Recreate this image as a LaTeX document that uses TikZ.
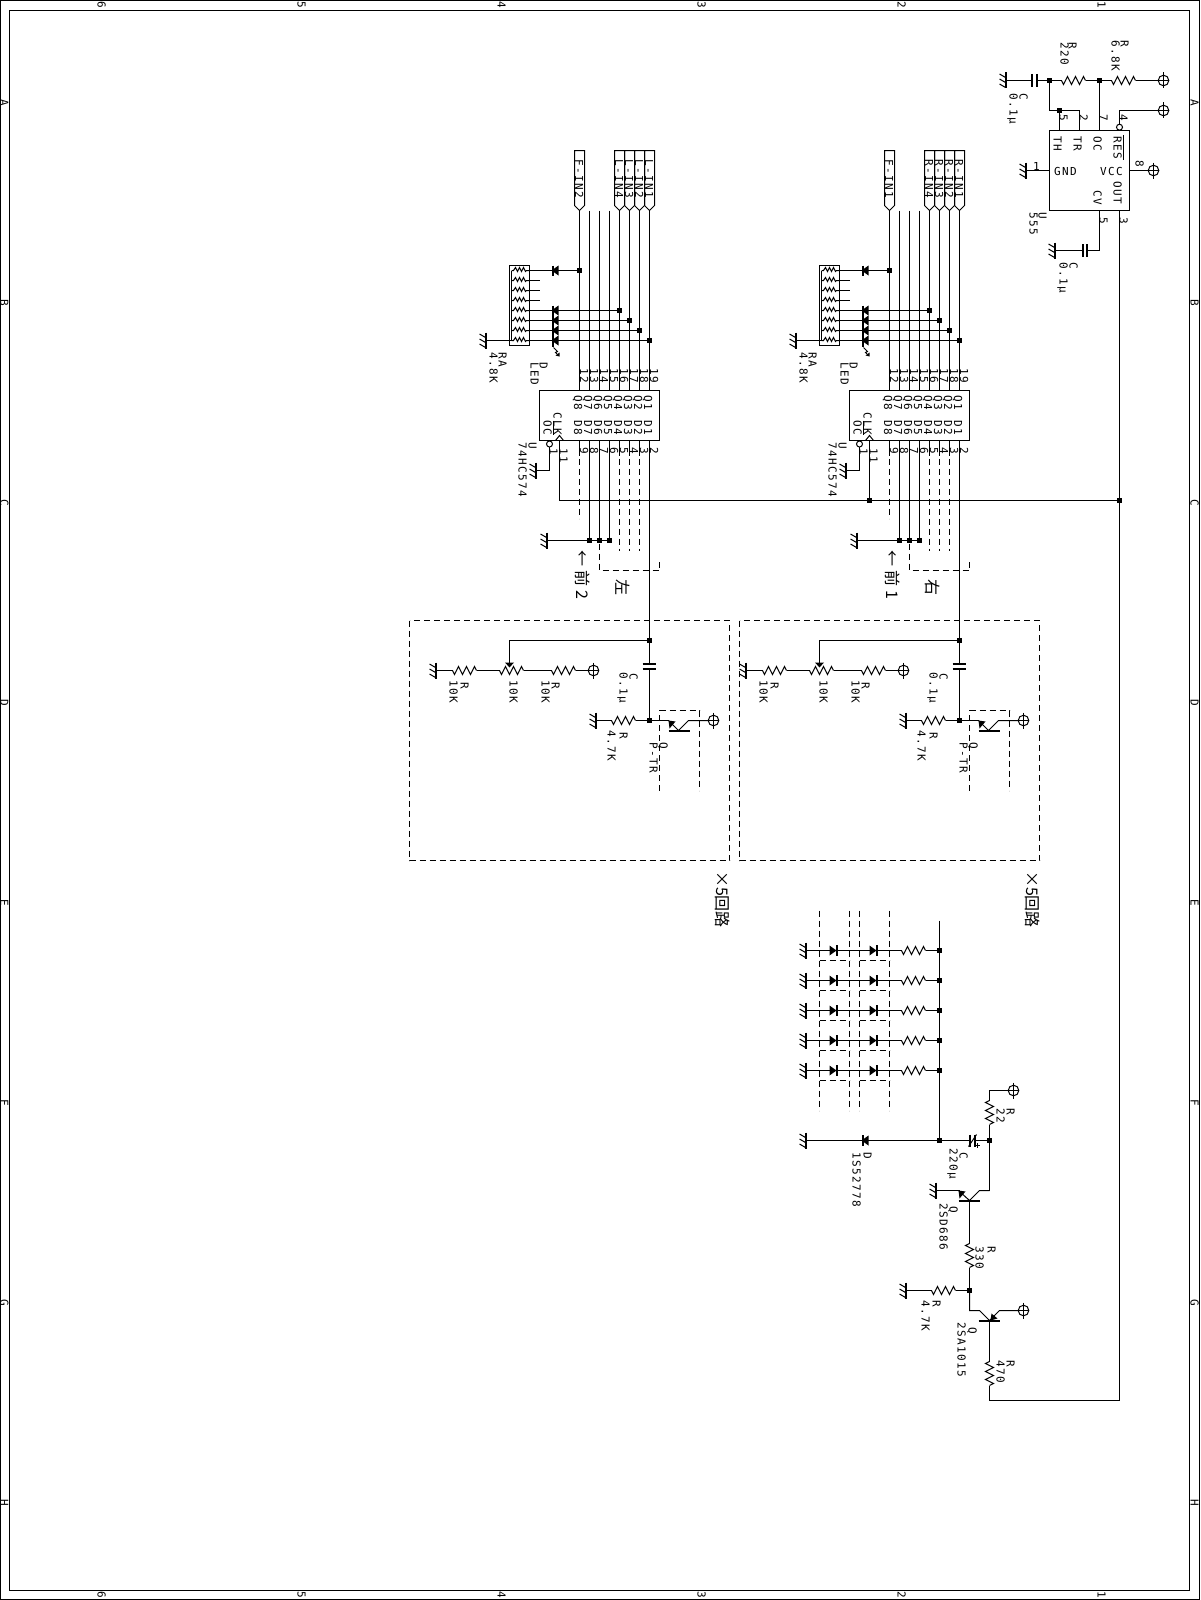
\documentclass[tikz,border=0pt]{standalone}
\usepackage{fontspec}
\newfontfamily\lf[LetterSpace=13]{DejaVu Sans Mono}
\newfontfamily\cjk{Noto Sans CJK JP}
\newcount\lbc
\tikzset{
  lab/.style={rotate=-90,anchor=west,inner sep=0pt,outer sep=0pt,font=\lf\fontsize{11}{11}\selectfont,text height=8pt,text depth=0pt},
  upr/.style={anchor=center,inner sep=0pt,font=\lf\fontsize{11}{11}\selectfont},
  big/.style={rotate=-90,anchor=west,inner sep=0pt,font=\cjk\fontsize{16}{16}\selectfont,text height=12pt,text depth=2pt},
  dsh/.style={dash pattern=on 6pt off 4pt},
  hvy/.style={line width=2pt}
}
\newcommand\lb[3]{\global\advance\lbc by 1 \node[lab] (t\the\lbc) at (#1,#2) {#3};}
\newcommand\lbu[3]{\global\advance\lbc by 1 \node[upr] (t\the\lbc) at (#1,#2) {#3};}
\newcommand\lbb[3]{\global\advance\lbc by 1 \node[big] (t\the\lbc) at (#1,#2) {#3};}
\newcommand\junc[2]{\fill (#1-2.5,#2-2.5) rectangle ++(5,5);}
\newcommand\gnd[2]{\begin{scope}[shift={(#1,#2)}]
  \draw[hvy] (0,-8) -- (0,8);
  \foreach \t in {-3,2,7} {\draw (0,\t) -- (-6,\t-3.5);}
\end{scope}}
\newcommand\pwr[2]{\begin{scope}[shift={(#1,#2)}]
  \draw (0,0) circle[radius=5.3pt];
  \draw (0,-8) -- (0,8);
  \draw (-5,0) -- (5.5,0);
\end{scope}}
\newcommand\resh[2]{\draw[shift={(#1,#2)}] (0,0) -- (2,4) -- (6,-4) -- (10,4) -- (14,-4) -- (18,4) -- (22,-4) -- (24,0);}
\newcommand\resv[2]{\draw[shift={(#1,#2)}] (0,0) -- (-4,2) -- (4,6) -- (-4,10) -- (4,14) -- (-4,18) -- (4,22) -- (0,24);}
\newcommand\caph[3]{\draw[hvy] (#1,#3-6.5) -- (#1,#3+6.5); \draw[hvy] (#2,#3-6.5) -- (#2,#3+6.5);}
\newcommand\dior[2]{\fill (#1,#2) -- (#1-7,#2-5) -- (#1-7,#2+5) -- cycle; \draw[hvy] (#1,#2-5.5) -- (#1,#2+5.5);}
\newcommand\diol[2]{\fill (#1,#2) -- (#1+7,#2-5) -- (#1+7,#2+5) -- cycle;}
\newcommand\flag[2]{\draw (#1-5,150) -- (#1+5,150) -- (#1+5,205) -- (#1,210) -- (#1-5,205) -- cycle; \lb{#1-0.5}{159}{#2}}
\newcommand\latch[8]{\begin{scope}[shift={(#1,0)}]
  \flag{890}{#2} \flag{930}{#3} \flag{940}{#4} \flag{950}{#5} \flag{960}{#6}
  \foreach \x in {890,900,...,960} {\draw (\x,210) -- (\x,390);}
  \junc{890}{270} \junc{930}{310} \junc{940}{320} \junc{950}{330} \junc{960}{340}
  \draw (820,265) rectangle (840,345);
  \draw (822,270) -- (822,340);
  \foreach \y in {270,280,...,340} {
    \draw (822,\y) -- (824,\y) -- (826,\y-3) -- (828,\y+1) -- (830,\y-3) -- (832,\y+1) -- (834,\y-3) -- (836,\y+1) -- (837,\y) -- (840,\y);
  }
  \foreach \y in {280,290,300} {\draw (840,\y) -- (850,\y);}
  \gnd{796}{340}
  \draw (796,340) -- (822,340);
  \draw (840,270) -- (890,270);
  \draw (840,310) -- (930,310);
  \draw (840,320) -- (940,320);
  \draw (840,330) -- (950,330);
  \draw (840,340) -- (960,340);
  \draw[hvy] (863,265) -- (863,275);
  \diol{862}{270}
  \draw[hvy] (863,305) -- (863,346);
  \foreach \y in {310,320,330,340} {\diol{862}{\y}}
  \draw (864,347) -- (868,351) -- (866,352) -- (869,355);
  \fill (870,356) -- (866,355) -- (870,352) -- cycle;
  \lb{813}{352}{RA}
  \lb{804}{352}{4.8K}
  \lb{854}{362}{D}
  \lb{845}{362}{LED}
  \draw (850,390) rectangle (970,440);
  \foreach \x/\t/\q/\b in {890/12/8/9,900/13/7/8,910/14/6/7,920/15/5/6,930/16/4/5,940/17/3/4,950/18/2/3,960/19/1/2} {
    \lb{\x+4.5}{368}{\t}
    \lb{\x-1.5}{395}{Q\q}
    \lb{\x-1.5}{420}{D\q}
    \lb{\x+4.5}{447}{\b}
  }
  \lb{868}{412}{CLK}
  \lb{858}{420}{OC}
  \draw (864,420) -- (864,434);
  \draw (866,440) -- (870,435) -- (874,440);
  \draw (860,443.5) circle[radius=3pt];
  \draw (860,446.5) -- (860,470) -- (846,470);
  \gnd{846}{470}
  \lb{864}{448}{1}
  \lb{874}{448}{11}
  \lb{843}{442}{U}
  \lb{833}{442}{74HC574}
  \draw (870,440) -- (870,500);
  \draw (890,440) -- (890,455);
  \draw[dsh] (890,458) -- (890,518);
  \foreach \x in {930,940,950} {\draw (\x,440) -- (\x,455); \draw[dsh] (\x,458) -- (\x,550);}
  \foreach \x in {900,910,920} {\draw (\x,440) -- (\x,540); \junc{\x}{540}}
  \draw (857,540) -- (920,540);
  \gnd{857}{540}
  \draw[dsh] (910,543) -- (910,570) -- (970,570) -- (970,560);
  \lbb{892}{549}{←\hspace{5pt}前\hspace{3pt}#7}
  \lbb{932}{578}{#8}
  \draw (960,440) -- (960,663);
  \draw (960,668) -- (960,720);
  \junc{960}{640} \junc{960}{720}
  \draw[hvy] (953,663) -- (966.5,663);
  \draw[hvy] (953,668) -- (966.5,668);
  \draw (960,640) -- (820,640) -- (820,663);
  \fill (820,667) -- (815.5,662) -- (824.5,662) -- cycle;
  \gnd{746}{670}
  \draw (746,670) -- (763,670); \resh{763}{670}
  \draw (787,670) -- (810,670); \resh{810}{670}
  \draw (834,670) -- (862,670); \resh{862}{670}
  \draw (886,670) -- (899,670);
  \pwr{904}{670}
  \lb{775}{682}{R}
  \lb{764}{680}{10K}
  \lb{824}{680}{10K}
  \lb{866}{682}{R}
  \lb{856}{680}{10K}
  \lb{944}{673}{C}
  \lb{934}{672}{0.1µ}
  \gnd{906}{720}
  \draw (906,720) -- (922,720); \resh{922}{720}
  \draw (946,720) -- (979,720);
  \fill (979,720) -- (986,721) -- (980,728) -- cycle;
  \draw (979,720) -- (989,730) -- (999,720) -- (1019,720);
  \draw[hvy] (979,730.5) -- (1000,730.5);
  \pwr{1024}{720}
  \draw[dsh] (970,790) -- (970,710) -- (1010,710) -- (1010,790);
  \lb{934}{732}{R}
  \lb{922}{730}{4.7K}
  \lb{974}{742}{Q}
  \lb{964}{742}{P-TR}
  \lbb{1032}{870}{×5回路}
\end{scope}}
\begin{document}
\begin{tikzpicture}[x=1pt,y=-1pt,line width=1pt]
\useasboundingbox (0,0) rectangle (1200,1600);
\fill[white] (0,0) rectangle (1200,1600);
\draw (0.5,0.5) rectangle (1199.5,1599.5);
\begin{scope}[shift={(-0.5,0.5)}]
\draw (10,10) rectangle (1190,1590);
\foreach \x/\n in {102/6,302/5,502/4,702/3,902/2,1102/1} {
  \lb{\x}{1}{\n}
  \lb{\x}{1591}{\n}
}
\foreach \y/\n in {103/A,303/B,503/C,703/D,903/E,1103/F,1303/G,1503/H} {
  \lb{5}{\y-4}{\n}
  \lb{1195}{\y-4}{\n}
}
\draw (1050,130) rectangle (1130,210);
\gnd{1006}{80}
\draw (1006,80) -- (1032,80);
\caph{1032}{1037}{80}
\draw (1037,80) -- (1062,80); \resh{1062}{80}
\draw (1086,80) -- (1112,80); \resh{1112}{80}
\draw (1136,80) -- (1159,80);
\pwr{1164}{80}
\junc{1050}{80} \junc{1100}{80}
\draw (1100,80) -- (1100,130);
\draw (1050,80) -- (1050,110) -- (1080,110) -- (1080,130);
\junc{1060}{110}
\draw (1060,110) -- (1060,130);
\draw (1120,123.5) -- (1120,110) -- (1159,110);
\draw (1120,126.7) circle[radius=3pt];
\pwr{1164}{110}
\gnd{1026}{170}
\draw (1026,170) -- (1050,170);
\draw (1130,170) -- (1149,170);
\pwr{1154}{170}
\draw (1100,210) -- (1100,250) -- (1087,250);
\caph{1083}{1087}{250}
\draw (1083,250) -- (1055,250);
\gnd{1055}{250}
\lb{1064}{114}{5}
\lb{1084}{114}{2}
\lb{1104}{114}{7}
\lb{1124}{114}{4}
\lb{1058}{136}{TH}
\lb{1078}{136}{TR}
\lb{1098}{136}{OC}
\lb{1118}{136}{RES}
\draw (1124,135) -- (1124,159);
\lbu{1066}{171}{GND}
\lbu{1112}{171}{VCC}
\lbu{1037}{166}{1}
\lb{1140}{160}{8}
\lb{1118}{181}{OUT}
\lb{1098}{190}{CV}
\lb{1104}{217}{5}
\lb{1124}{217}{3}
\lb{1043}{212}{U}
\lb{1034}{212}{555}
\lb{1073}{42}{R}
\lb{1065}{42}{220}
\lb{1125}{40}{R}
\lb{1116}{40}{6.8K}
\lb{1024}{93}{C}
\lb{1014}{93}{0.1µ}
\lb{1074}{262}{C}
\lb{1064}{262}{0.1µ}
\draw (1120,210) -- (1120,1400) -- (990,1400);
\draw (560,500) -- (1120,500);
\junc{1120}{500}
\junc{870}{500}
\latch{0}{F-IN1}{R-IN4}{R-IN3}{R-IN2}{R-IN1}{1}{右}
\latch{-310}{F-IN2}{L-IN4}{L-IN3}{L-IN2}{L-IN1}{2}{左}
\draw[dsh] (740,620) rectangle (1040,860);
\draw[dsh] (410,620) rectangle (730,860);
\foreach \x in {820,850,860,890} {\draw[dsh] (\x,910) -- (\x,1110);}
\draw (940,920) -- (940,1140);
\foreach \y in {950,980,1010,1040,1070} {
  \gnd{806}{\y}
  \draw (806,\y) -- (902,\y);
  \dior{837}{\y}
  \dior{877}{\y}
  \resh{902}{\y}
  \draw (926,\y) -- (940,\y);
  \junc{940}{\y}
  \draw[dsh] (820,\y+10) -- (850,\y+10);
  \draw[dsh] (860,\y+10) -- (890,\y+10);
}
\gnd{806}{1140}
\draw (806,1140) -- (970,1140);
\draw[hvy] (863,1134.5) -- (863,1145.5);
\diol{862}{1140}
\junc{940}{1140}
\draw[hvy] (970,1134) -- (970,1146);
\draw[hvy] (975,1134) -- (975,1146);
\draw (969,1146) -- (977,1134);
\draw (975,1145) -- (980,1145) (977.5,1142.5) -- (977.5,1147.5);
\draw (975,1140) -- (990,1140);
\junc{990}{1140}
\lb{868}{1152}{D}
\lb{857}{1152}{1S52778}
\lb{964}{1152}{C}
\lb{954}{1148}{220µ}
\draw (990,1190) -- (990,1124);
\resv{990}{1100}
\draw (990,1100) -- (990,1090) -- (1009,1090);
\pwr{1014}{1090}
\lb{1011}{1108}{R}
\lb{1001}{1108}{22}
\gnd{936}{1190}
\draw (936,1190) -- (960,1190);
\fill (959,1190) -- (966,1191) -- (960,1198) -- cycle;
\draw (959,1190) -- (970,1200) -- (980,1190) -- (990,1190);
\draw[hvy] (959,1200.5) -- (980,1200.5);
\lb{954}{1206}{Q}
\lb{944}{1203}{2SD686}
\draw (970,1200) -- (970,1243);
\resv{970}{1243}
\draw (970,1267) -- (970,1290);
\junc{970}{1290}
\lb{992}{1246}{R}
\lb{980}{1246}{330}
\gnd{906}{1290}
\draw (906,1290) -- (932,1290);
\resh{932}{1290}
\draw (956,1290) -- (970,1290);
\lb{937}{1300}{R}
\lb{926}{1300}{4.7K}
\draw (970,1290) -- (970,1310) -- (980,1310) -- (990,1320) -- (1000,1310) -- (1019,1310);
\draw[hvy] (979,1320.5) -- (1000,1320.5);
\fill (991,1320) -- (998,1318) -- (992,1313) -- cycle;
\pwr{1024}{1310}
\lb{973}{1327}{Q}
\lb{962}{1322}{2SA1015}
\draw (990,1320) -- (990,1361);
\resv{990}{1361}
\draw (990,1385) -- (990,1400);
\lb{1011}{1360}{R}
\lb{1001}{1360}{470}
\end{scope}
\end{tikzpicture}
\end{document}
